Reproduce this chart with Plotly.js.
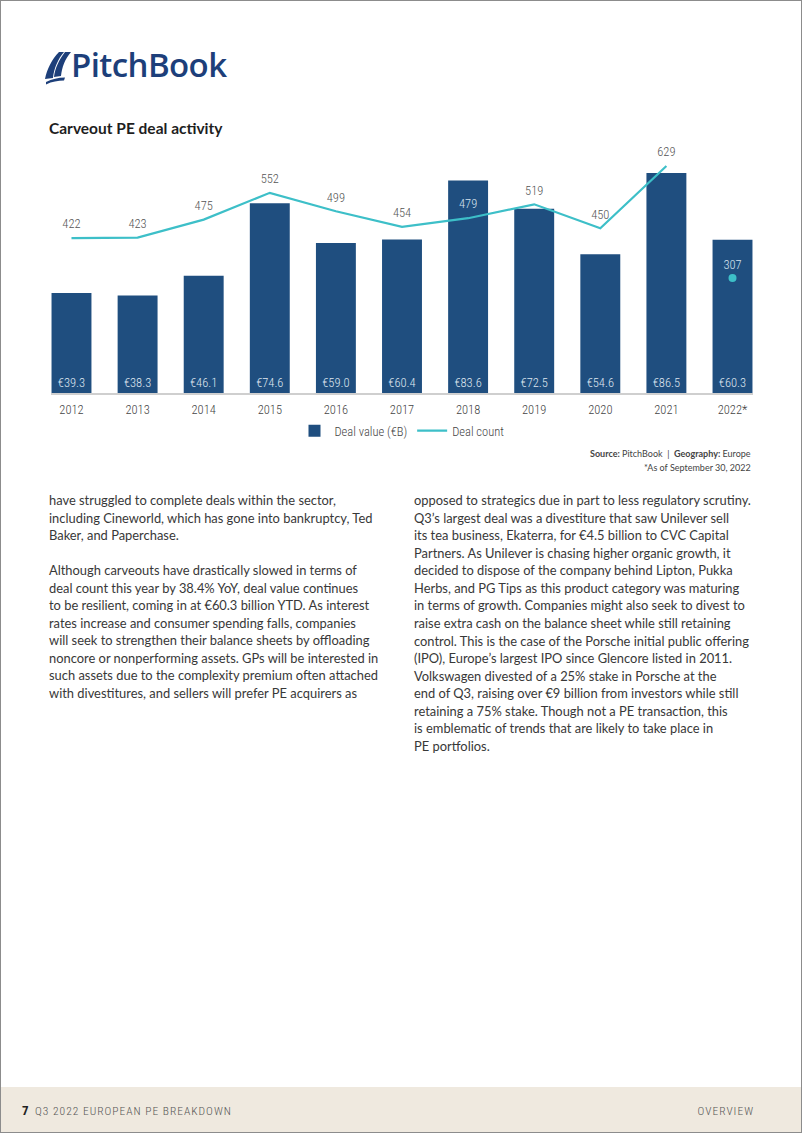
<!DOCTYPE html>
<html>
<head>
<meta charset="utf-8">
<script src="https://cdn.plot.ly/plotly-3.0.1.min.js"></script>
<style>
  html, body { margin: 0; padding: 0; background: #fff; }
  #page { position: relative; width: 802px; height: 1133px; box-sizing: border-box; border: 1px solid #8c8c8c; overflow: hidden; background: #fff; }
  #chart { position: absolute; left: 0; top: 0; width: 802px; height: 480px; }
  .logo { position: absolute; left: 43px; top: 48px; height: 36px; }
  .logotext { position: absolute; left: 70px; top: 44px; font-family: "Open Sans", sans-serif; font-weight: 600; font-size: 33px; color: #1d3f7a; letter-spacing: -0.6px; line-height: 40px; }
  .ln { position: absolute; white-space: nowrap; font-family: Lato, sans-serif; font-size: 12.9px; color: #383838; line-height: 18px; }
  #footer { position: absolute; left: 0; top: 1086px; width: 802px; height: 47px; background: #efe9df; }
  .ft { position: absolute; font-family: "Roboto Condensed", sans-serif; font-weight: 300; color: #555; font-size: 11.5px; letter-spacing: 1px; line-height: 14px; }
</style>
</head>
<body>
<div id="page">
  <svg class="logo" width="28" height="36" viewBox="0 0 28 36">
    <path d="M1 30 C3 20 8 10 15 3 L20 3 C14 10 10 19 9 29 Z" fill="#1d3f7a"/>
    <path d="M10 28 C11 19 15 11 21 3 L27 3 C21 10 18 18 17 27 Z" fill="#1d3f7a"/>
    <path d="M2 33 C8 30 14 28.5 21 28.5 L20 31.5 C14 31.5 8 32.5 2 35.5 Z" fill="#1d3f7a"/>
  </svg>
  <div class="logotext">PitchBook</div>
  <div id="chart"></div>
  <div id="textcols"></div>
  <div id="footer">
    <div class="ft" style="left:21px; top:17px; font-weight:700; color:#222; font-size:13px; letter-spacing:0;">7</div>
    <div class="ft" style="left:34px; top:17px;">Q3 2022 EUROPEAN PE BREAKDOWN</div>
    <div class="ft" style="right:49px; top:17px;">OVERVIEW</div>
  </div>
</div>
<script>
// ---- data ----
const years = ["2012","2013","2014","2015","2016","2017","2018","2019","2020","2021","2022*"];
const dealValue = [39.3, 38.3, 46.1, 74.6, 59.0, 60.4, 83.6, 72.5, 54.6, 86.5, 60.3];
const dealCount = [422, 423, 475, 552, 499, 454, 479, 519, 450, 629, 307];
const valueLabels = ["€39.3","€38.3","€46.1","€74.6","€59.0","€60.4","€83.6","€72.5","€54.6","€86.5","€60.3"];

const leftLines = [
  "have struggled to complete deals within the sector,",
  "including Cineworld, which has gone into bankruptcy, Ted",
  "Baker, and Paperchase.",
  "",
  "Although carveouts have drastically slowed in terms of",
  "deal count this year by 38.4% YoY, deal value continues",
  "to be resilient, coming in at €60.3 billion YTD. As interest",
  "rates increase and consumer spending falls, companies",
  "will seek to strengthen their balance sheets by offloading",
  "noncore or nonperforming assets. GPs will be interested in",
  "such assets due to the complexity premium often attached",
  "with divestitures, and sellers will prefer PE acquirers as"
];
const rightLines = [
  "opposed to strategics due in part to less regulatory scrutiny.",
  "Q3’s largest deal was a divestiture that saw Unilever sell",
  "its tea business, Ekaterra, for €4.5 billion to CVC Capital",
  "Partners. As Unilever is chasing higher organic growth, it",
  "decided to dispose of the company behind Lipton, Pukka",
  "Herbs, and PG Tips as this product category was maturing",
  "in terms of growth. Companies might also seek to divest to",
  "raise extra cash on the balance sheet while still retaining",
  "control. This is the case of the Porsche initial public offering",
  "(IPO), Europe’s largest IPO since Glencore listed in 2011.",
  "Volkswagen divested of a 25% stake in Porsche at the",
  "end of Q3, raising over €9 billion from investors while still",
  "retaining a 75% stake. Though not a PE transaction, this",
  "is emblematic of trends that are likely to take place in",
  "PE portfolios."
];

// ---- body text ----
const tc = document.getElementById('textcols');
function addLines(lines, x, y0, step) {
  lines.forEach((t, i) => {
    if (!t) return;
    const d = document.createElement('div');
    d.className = 'ln';
    d.style.left = x + 'px';
    d.style.top = (y0 + i * step - 9) + 'px';
    d.textContent = t;
    tc.appendChild(d);
  });
}
addLines(leftLines, 48, 499, 17.5);
addLines(rightLines, 413, 499, 17.57);

// ---- chart ----
const barColor = '#1f4e7f';
const teal = '#3dbfc8';
const chartFont = '"Roboto Condensed", sans-serif';
const nLine = dealCount.length - 1;
const countColors = years.slice(0, nLine).map(y => (y === '2018') ? '#d5e2ee' : '#555555');

const traces = [
  {
    type: 'bar', name: 'Deal value (€B)', x: years, y: dealValue,
    marker: { color: barColor },
    text: valueLabels, textposition: 'inside', insidetextanchor: 'start',
    textfont: { family: chartFont, size: 12.5, weight: 300, color: '#dfe6ef' },
    hoverinfo: 'skip'
  },
  {
    type: 'scatter', mode: 'lines', name: 'Deal count', yaxis: 'y2',
    x: years.slice(0, nLine), y: dealCount.slice(0, nLine),
    line: { color: teal, width: 2.2 },
    hoverinfo: 'skip'
  },
  {
    type: 'scatter', mode: 'markers+text', name: 'Deal count labels', yaxis: 'y2', showlegend: false,
    x: years.slice(0, nLine), y: dealCount.slice(0, nLine),
    marker: { size: 9, opacity: 0, color: teal },
    text: dealCount.slice(0, nLine).map(String), textposition: 'top center',
    textfont: { family: chartFont, size: 12.5, weight: 300, color: countColors },
    cliponaxis: false, hoverinfo: 'skip'
  },
  {
    type: 'scatter', mode: 'markers+text', name: 'Deal count', yaxis: 'y2', showlegend: false,
    x: years.slice(nLine), y: dealCount.slice(nLine),
    marker: { color: teal, size: 8 },
    text: dealCount.slice(nLine).map(String), textposition: 'top center',
    textfont: { family: chartFont, size: 12.5, weight: 300, color: '#d5e2ee' },
    cliponaxis: false, hoverinfo: 'skip'
  }
];

const layout = {
  width: 802, height: 480,
  margin: { l: 50, r: 50, t: 140, b: 88 },
  paper_bgcolor: 'rgba(0,0,0,0)', plot_bgcolor: 'rgba(0,0,0,0)',
  font: { family: chartFont, color: '#444' },
  title: {
    text: 'Carveout PE deal activity',
    xref: 'container', yref: 'container', x: 48/802, xanchor: 'left',
    y: 1 - 128/480, yanchor: 'middle',
    font: { family: 'Lato, sans-serif', size: 15.5, weight: 700, color: '#1e1e1e' }
  },
  bargap: 0.396,
  xaxis: {
    type: 'category', range: [-0.31, 10.31], fixedrange: true,
    showline: true, linecolor: '#cfcfcf', linewidth: 1.5,
    ticks: '', showgrid: false, zeroline: false,
    tickfont: { family: chartFont, size: 12.5, weight: 300, color: '#444' }, ticklabelstandoff: 4
  },
  yaxis: { range: [0, 99.1], visible: false, showgrid: false, zeroline: false, fixedrange: true },
  yaxis2: { range: [-23.6, 701], overlaying: 'y', visible: false, showgrid: false, zeroline: false, fixedrange: true },
  showlegend: true,
  legend: {
    orientation: 'h', x: 0.5, xanchor: 'center', y: -0.151, yanchor: 'middle',
    font: { family: chartFont, size: 12.5, weight: 300, color: '#444' }, traceorder: 'normal',
    itemwidth: 30
  },
  annotations: [
    { xref: 'paper', yref: 'paper', x: 1, xanchor: 'right', y: -0.242, yanchor: 'middle', showarrow: false,
      text: '<b>Source:</b> PitchBook  |  <b>Geography:</b> Europe',
      font: { family: 'Lato, sans-serif', size: 9, color: '#444' } },
    { xref: 'paper', yref: 'paper', x: 1, xanchor: 'right', y: -0.294, yanchor: 'middle', showarrow: false,
      text: '*As of September 30, 2022',
      font: { family: 'Lato, sans-serif', size: 9, color: '#444' } }
  ]
};

Plotly.newPlot('chart', traces, layout, { staticPlot: true, displayModeBar: false });
</script>
</body>
</html>
